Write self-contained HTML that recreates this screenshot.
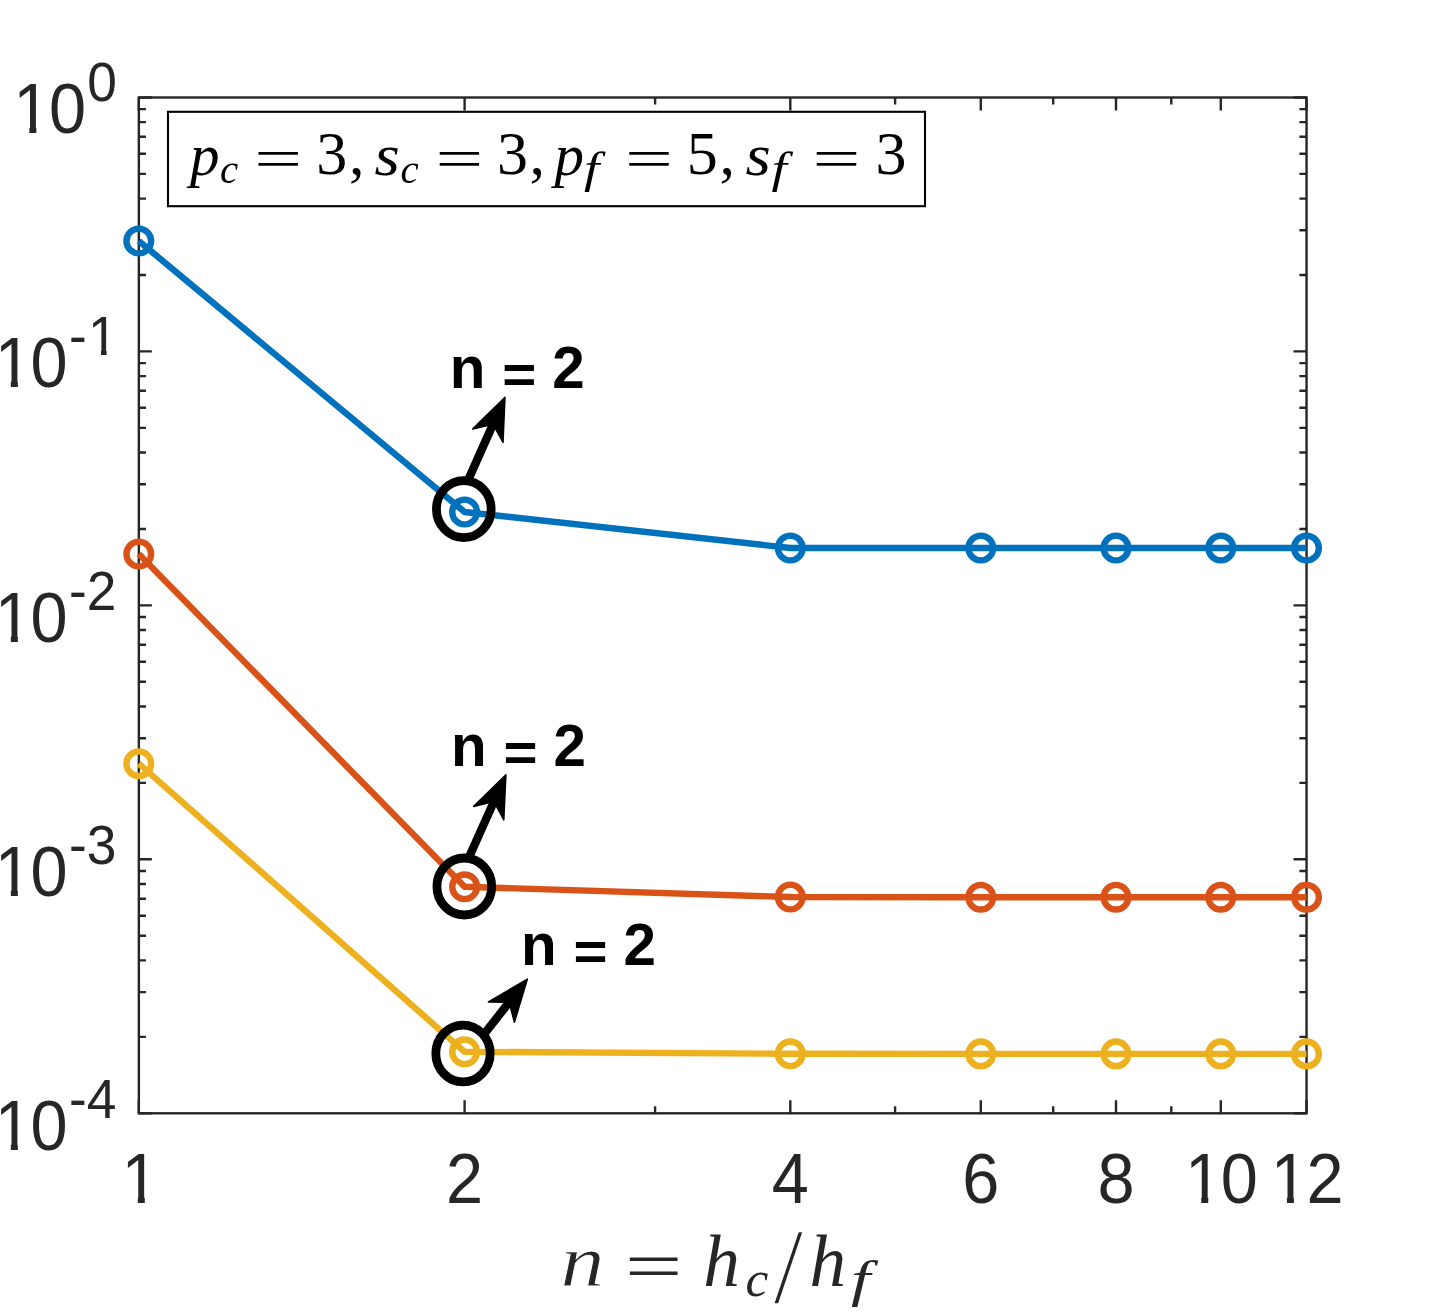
<!DOCTYPE html>
<html><head><meta charset="utf-8"><title>plot</title>
<style>
html,body{margin:0;padding:0;background:#fff;}
body{width:1447px;height:1312px;overflow:hidden;}
svg{display:block;}
.tk{font-family:"Liberation Sans",Arial,Helvetica,sans-serif;fill:#262626;}
.b{font-family:"Liberation Sans",Arial,Helvetica,sans-serif;font-weight:bold;fill:#000;}
.mi{font-family:"Liberation Serif","Times New Roman",serif;font-style:italic;}
.mr{font-family:"Liberation Serif","Times New Roman",serif;}
</style></head><body>
<svg width="1447" height="1312" viewBox="0 0 1447 1312">
<rect x="0" y="0" width="1447" height="1312" fill="#fff"/>
<defs><clipPath id="c1" clipPathUnits="userSpaceOnUse"><path d="M-6.67 -66.67 L46.67 -66.67 L46.67 -6.67 L23.20 -6.67 L23.20 3.33 L16.20 3.33 L16.20 -6.67 L-6.67 -6.67 Z"/></clipPath><clipPath id="c2" clipPathUnits="userSpaceOnUse"><path d="M-5.33 -53.30 L37.31 -53.30 L37.31 -5.33 L18.55 -5.33 L18.55 2.67 L12.95 2.67 L12.95 -5.33 L-5.33 -5.33 Z"/></clipPath></defs>
<path d="M138.8 1113.3 v-13.0 M138.8 97.5 v13.0 M464.6 1113.3 v-13.0 M464.6 97.5 v13.0 M790.3 1113.3 v-13.0 M790.3 97.5 v13.0 M980.8 1113.3 v-13.0 M980.8 97.5 v13.0 M1116.0 1113.3 v-13.0 M1116.0 97.5 v13.0 M1220.8 1113.3 v-13.0 M1220.8 97.5 v13.0 M1306.5 1113.3 v-13.0 M1306.5 97.5 v13.0 M655.1 1113.3 v-7.1 M655.1 97.5 v7.1 M895.1 1113.3 v-7.1 M895.1 97.5 v7.1 M1053.2 1113.3 v-7.1 M1053.2 97.5 v7.1 M1171.3 1113.3 v-7.1 M1171.3 97.5 v7.1 M138.85 97.5 h13.0 M1306.5 97.5 h-13.0 M138.85 275.0 h7.1 M1306.5 275.0 h-7.1 M138.85 230.3 h7.1 M1306.5 230.3 h-7.1 M138.85 198.6 h7.1 M1306.5 198.6 h-7.1 M138.85 173.9 h7.1 M1306.5 173.9 h-7.1 M138.85 153.8 h7.1 M1306.5 153.8 h-7.1 M138.85 136.8 h7.1 M1306.5 136.8 h-7.1 M138.85 122.1 h7.1 M1306.5 122.1 h-7.1 M138.85 109.1 h7.1 M1306.5 109.1 h-7.1 M138.85 351.4 h13.0 M1306.5 351.4 h-13.0 M138.85 529.0 h7.1 M1306.5 529.0 h-7.1 M138.85 484.2 h7.1 M1306.5 484.2 h-7.1 M138.85 452.5 h7.1 M1306.5 452.5 h-7.1 M138.85 427.9 h7.1 M1306.5 427.9 h-7.1 M138.85 407.8 h7.1 M1306.5 407.8 h-7.1 M138.85 390.8 h7.1 M1306.5 390.8 h-7.1 M138.85 376.1 h7.1 M1306.5 376.1 h-7.1 M138.85 363.1 h7.1 M1306.5 363.1 h-7.1 M138.85 605.4 h13.0 M1306.5 605.4 h-13.0 M138.85 782.9 h7.1 M1306.5 782.9 h-7.1 M138.85 738.2 h7.1 M1306.5 738.2 h-7.1 M138.85 706.5 h7.1 M1306.5 706.5 h-7.1 M138.85 681.8 h7.1 M1306.5 681.8 h-7.1 M138.85 661.7 h7.1 M1306.5 661.7 h-7.1 M138.85 644.7 h7.1 M1306.5 644.7 h-7.1 M138.85 630.0 h7.1 M1306.5 630.0 h-7.1 M138.85 617.0 h7.1 M1306.5 617.0 h-7.1 M138.85 859.3 h13.0 M1306.5 859.3 h-13.0 M138.85 1036.9 h7.1 M1306.5 1036.9 h-7.1 M138.85 992.1 h7.1 M1306.5 992.1 h-7.1 M138.85 960.4 h7.1 M1306.5 960.4 h-7.1 M138.85 935.8 h7.1 M1306.5 935.8 h-7.1 M138.85 915.7 h7.1 M1306.5 915.7 h-7.1 M138.85 898.7 h7.1 M1306.5 898.7 h-7.1 M138.85 884.0 h7.1 M1306.5 884.0 h-7.1 M138.85 871.0 h7.1 M1306.5 871.0 h-7.1 M138.85 1113.3 h13.0 M1306.5 1113.3 h-13.0" fill="none" stroke="#262626" stroke-width="2.4"/>
<rect x="138.85" y="97.5" width="1167.7" height="1015.8" fill="none" stroke="#262626" stroke-width="2.4"/>
<polyline points="138.8,241.0 464.6,512.0 790.3,548.0 980.8,548.0 1116.0,548.0 1220.8,548.0 1306.5,548.0" fill="none" stroke="#0072BD" stroke-width="6.4" stroke-linejoin="round"/>
<circle cx="138.8" cy="241.0" r="12.35" fill="none" stroke="#0072BD" stroke-width="6.4"/>
<circle cx="464.6" cy="512.0" r="12.35" fill="none" stroke="#0072BD" stroke-width="6.4"/>
<circle cx="790.3" cy="548.0" r="12.35" fill="none" stroke="#0072BD" stroke-width="6.4"/>
<circle cx="980.8" cy="548.0" r="12.35" fill="none" stroke="#0072BD" stroke-width="6.4"/>
<circle cx="1116.0" cy="548.0" r="12.35" fill="none" stroke="#0072BD" stroke-width="6.4"/>
<circle cx="1220.8" cy="548.0" r="12.35" fill="none" stroke="#0072BD" stroke-width="6.4"/>
<circle cx="1306.5" cy="548.0" r="12.35" fill="none" stroke="#0072BD" stroke-width="6.4"/>
<polyline points="138.8,554.0 464.6,886.8 790.3,897.0 980.8,897.2 1116.0,897.2 1220.8,897.2 1306.5,897.2" fill="none" stroke="#D95319" stroke-width="6.4" stroke-linejoin="round"/>
<circle cx="138.8" cy="554.0" r="12.35" fill="none" stroke="#D95319" stroke-width="6.4"/>
<circle cx="464.6" cy="886.8" r="12.35" fill="none" stroke="#D95319" stroke-width="6.4"/>
<circle cx="790.3" cy="897.0" r="12.35" fill="none" stroke="#D95319" stroke-width="6.4"/>
<circle cx="980.8" cy="897.2" r="12.35" fill="none" stroke="#D95319" stroke-width="6.4"/>
<circle cx="1116.0" cy="897.2" r="12.35" fill="none" stroke="#D95319" stroke-width="6.4"/>
<circle cx="1220.8" cy="897.2" r="12.35" fill="none" stroke="#D95319" stroke-width="6.4"/>
<circle cx="1306.5" cy="897.2" r="12.35" fill="none" stroke="#D95319" stroke-width="6.4"/>
<polyline points="138.8,763.7 464.6,1051.8 790.3,1053.8 980.8,1053.9 1116.0,1053.9 1220.8,1053.9 1306.5,1053.9" fill="none" stroke="#EDB120" stroke-width="6.4" stroke-linejoin="round"/>
<circle cx="138.8" cy="763.7" r="12.35" fill="none" stroke="#EDB120" stroke-width="6.4"/>
<circle cx="464.6" cy="1051.8" r="12.35" fill="none" stroke="#EDB120" stroke-width="6.4"/>
<circle cx="790.3" cy="1053.8" r="12.35" fill="none" stroke="#EDB120" stroke-width="6.4"/>
<circle cx="980.8" cy="1053.9" r="12.35" fill="none" stroke="#EDB120" stroke-width="6.4"/>
<circle cx="1116.0" cy="1053.9" r="12.35" fill="none" stroke="#EDB120" stroke-width="6.4"/>
<circle cx="1220.8" cy="1053.9" r="12.35" fill="none" stroke="#EDB120" stroke-width="6.4"/>
<circle cx="1306.5" cy="1053.9" r="12.35" fill="none" stroke="#EDB120" stroke-width="6.4"/>
<text class="tk" transform="translate(121.61 1202.70) scale(1 1.045)" font-size="66.67" clip-path="url(#c1)">1</text>
<text class="tk" transform="translate(446.02 1202.70) scale(1 1.045)" font-size="66.67">2</text>
<text class="tk" transform="translate(771.72 1202.70) scale(1 1.045)" font-size="66.67">4</text>
<text class="tk" transform="translate(962.25 1202.70) scale(1 1.045)" font-size="66.67">6</text>
<text class="tk" transform="translate(1097.43 1202.70) scale(1 1.045)" font-size="66.67">8</text>
<text class="tk" transform="translate(1185.05 1202.70) scale(1 1.045)" font-size="66.67" clip-path="url(#c1)">1</text>
<text class="tk" transform="translate(1220.83 1202.70) scale(1 1.045)" font-size="66.67">0</text>
<text class="tk" transform="translate(1270.72 1202.70) scale(1 1.045)" font-size="66.67" clip-path="url(#c1)">1</text>
<text class="tk" transform="translate(1306.50 1202.70) scale(1 1.045)" font-size="66.67">2</text>
<text class="tk" transform="translate(13.14 132.80) scale(1 1.045)" font-size="66.67" clip-path="url(#c1)">1</text>
<text class="tk" transform="translate(48.92 132.80) scale(1 1.045)" font-size="66.67">0</text>
<text class="tk" transform="translate(87.30 100.80) scale(1 1.045)" font-size="53.3">0</text>
<text class="tk" transform="translate(-5.36 386.94) scale(1 1.045)" font-size="66.67" clip-path="url(#c1)">1</text>
<text class="tk" transform="translate(30.42 386.94) scale(1 1.045)" font-size="66.67">0</text>
<text class="tk" transform="translate(69.00 354.94) scale(1 1.045)" font-size="53.3">-</text>
<text class="tk" transform="translate(88.05 354.94) scale(1 1.045)" font-size="53.3" clip-path="url(#c2)">1</text>
<text class="tk" transform="translate(-5.36 641.94) scale(1 1.045)" font-size="66.67" clip-path="url(#c1)">1</text>
<text class="tk" transform="translate(30.42 641.94) scale(1 1.045)" font-size="66.67">0</text>
<text class="tk" transform="translate(69.00 609.94) scale(1 1.045)" font-size="53.3">-</text>
<text class="tk" transform="translate(86.75 609.94) scale(1 1.045)" font-size="53.3">2</text>
<text class="tk" transform="translate(-5.36 895.86) scale(1 1.045)" font-size="66.67" clip-path="url(#c1)">1</text>
<text class="tk" transform="translate(30.42 895.86) scale(1 1.045)" font-size="66.67">0</text>
<text class="tk" transform="translate(69.00 863.86) scale(1 1.045)" font-size="53.3">-</text>
<text class="tk" transform="translate(86.75 863.86) scale(1 1.045)" font-size="53.3">3</text>
<text class="tk" transform="translate(-5.36 1150.20) scale(1 1.045)" font-size="66.67" clip-path="url(#c1)">1</text>
<text class="tk" transform="translate(30.42 1150.20) scale(1 1.045)" font-size="66.67">0</text>
<text class="tk" transform="translate(69.00 1118.20) scale(1 1.045)" font-size="53.3">-</text>
<text class="tk" transform="translate(86.75 1118.20) scale(1 1.045)" font-size="53.3">4</text>
<line x1="467.4" y1="481.8" x2="493.0" y2="424.2" stroke="#000" stroke-width="8.33"/>
<path d="M505.0 397.3 L503.0 442.4 L493.0 424.2 L472.8 428.9 Z" fill="#000" stroke="#000" stroke-width="1.5" stroke-linejoin="round"/>
<line x1="468.1" y1="859.2" x2="493.9" y2="801.6" stroke="#000" stroke-width="8.33"/>
<path d="M505.9 774.8 L503.8 819.9 L493.9 801.6 L473.7 806.4 Z" fill="#000" stroke="#000" stroke-width="1.5" stroke-linejoin="round"/>
<line x1="482.1" y1="1036.6" x2="509.2" y2="1002.2" stroke="#000" stroke-width="8.33"/>
<path d="M527.4 979.1 L514.4 1022.3 L509.2 1002.2 L488.4 1001.9 Z" fill="#000" stroke="#000" stroke-width="1.5" stroke-linejoin="round"/>
<ellipse cx="463.8" cy="509.1" rx="27.4" ry="28.5" fill="none" stroke="#000" stroke-width="8.8"/>
<ellipse cx="464.3" cy="886.5" rx="27.4" ry="28.5" fill="none" stroke="#000" stroke-width="8.8"/>
<ellipse cx="463.0" cy="1053.5" rx="27.2" ry="28.4" fill="none" stroke="#000" stroke-width="8.8"/>
<text class="b" transform="translate(449.80 387.80) scale(1 1.03)" font-size="58.33">n</text>
<text class="b" transform="translate(502.26 393.30) scale(1 0.93)" font-size="58.33">=</text>
<text class="b" transform="translate(552.14 387.80) scale(1 1.03)" font-size="58.33">2</text>
<text class="b" transform="translate(451.10 765.60) scale(1 1.03)" font-size="58.33">n</text>
<text class="b" transform="translate(503.56 771.10) scale(1 0.93)" font-size="58.33">=</text>
<text class="b" transform="translate(553.44 765.60) scale(1 1.03)" font-size="58.33">2</text>
<text class="b" transform="translate(521.10 964.75) scale(1 1.03)" font-size="58.33">n</text>
<text class="b" transform="translate(573.56 970.25) scale(1 0.93)" font-size="58.33">=</text>
<text class="b" transform="translate(623.44 964.75) scale(1 1.03)" font-size="58.33">2</text>
<rect x="168" y="111.8" width="757" height="94.4" fill="#fff" stroke="#000" stroke-width="2.1"/>
<text class="mi" transform="translate(190.00 174.60)" font-size="59" fill="#000">p</text>
<text class="mi" transform="translate(220.00 182.70)" font-size="41" fill="#000">c</text>
<text class="mr" transform="translate(278.15 158.85) scale(1.412 0.93)" y="19.98" font-size="60" fill="#000" text-anchor="middle">=</text>
<text class="mr" transform="translate(316.30 173.80)" font-size="62" fill="#000">3</text>
<text class="mr" transform="translate(349.00 173.80)" font-size="62" fill="#000">,</text>
<text class="mi" transform="translate(374.50 174.60) scale(1.1 1)" font-size="59" fill="#000">s</text>
<text class="mi" transform="translate(400.50 182.70)" font-size="41" fill="#000">c</text>
<text class="mr" transform="translate(459.30 158.85) scale(1.409 0.93)" y="19.98" font-size="60" fill="#000" text-anchor="middle">=</text>
<text class="mr" transform="translate(496.90 173.80)" font-size="62" fill="#000">3</text>
<text class="mr" transform="translate(529.50 173.80)" font-size="62" fill="#000">,</text>
<text class="mi" transform="translate(554.50 174.60)" font-size="59" fill="#000">p</text>
<text class="mi" transform="translate(584.00 182.70) scale(1.25 1)" font-size="44" fill="#000">f</text>
<text class="mr" transform="translate(649.00 158.85) scale(1.416 0.93)" y="19.98" font-size="60" fill="#000" text-anchor="middle">=</text>
<text class="mr" transform="translate(686.70 173.80)" font-size="62" fill="#000">5</text>
<text class="mr" transform="translate(719.50 173.80)" font-size="62" fill="#000">,</text>
<text class="mi" transform="translate(745.50 174.60) scale(1.1 1)" font-size="59" fill="#000">s</text>
<text class="mi" transform="translate(771.50 182.70) scale(1.25 1)" font-size="44" fill="#000">f</text>
<text class="mr" transform="translate(836.50 158.85) scale(1.416 0.93)" y="19.98" font-size="60" fill="#000" text-anchor="middle">=</text>
<text class="mr" transform="translate(875.50 173.80)" font-size="62" fill="#000">3</text>
<text class="mi" transform="translate(560.5 1285.8) scale(1.2 1)" font-size="73.3" fill="#262626" stroke="#fff" stroke-width="0.8">n</text>
<text class="mr" transform="translate(653.60 1266.50) scale(1.404 0.95)" y="24.31" font-size="73" fill="#262626" text-anchor="middle">=</text>
<text class="mi" transform="translate(703.30 1285.80)" font-size="73.3" fill="#262626">h</text>
<text class="mi" transform="translate(745.50 1296.00)" font-size="51.3" fill="#262626">c</text>
<text class="mr" transform="translate(773.5 1302.5)" font-size="107" fill="#262626" stroke="#fff" stroke-width="1.5">/</text>
<text class="mi" transform="translate(809.50 1285.80)" font-size="73.3" fill="#262626">h</text>
<text class="mi" transform="translate(851.00 1296.00) scale(1.35 1)" font-size="51.3" fill="#262626">f</text>
</svg></body></html>
